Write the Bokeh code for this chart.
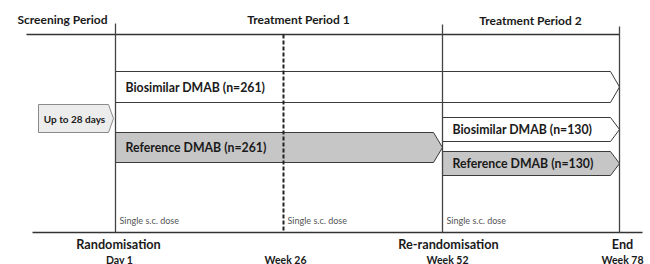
from bokeh.plotting import figure
from bokeh.models import Range1d
from bokeh.core.properties import value
from bokeh.embed import file_html
from bokeh.resources import INLINE

# ---- data ----
period_labels = ["Screening Period", "Treatment Period 1", "Treatment Period 2"]
timepoint_labels = ["Day 1", "Week 26", "Week 52", "Week 78"]
milestone_labels = ["Randomisation", "", "Re-randomisation", "End"]
dose_timepoints = [0, 1, 2]
dose_label = "Single s.c. dose"
screening_label = "Up to 28 days"
arm_labels = ["Biosimilar DMAB (n=261)", "Reference DMAB (n=261)",
              "Biosimilar DMAB (n=130)", "Reference DMAB (n=130)"]
arm_product = ["Biosimilar", "Reference", "Biosimilar", "Reference"]
arm_start = [0, 0, 2, 2]   # timepoint index
arm_end = [3, 2, 3, 3]     # timepoint index

# ---- layout (reference pixel space) ----
TP_X = [115, 283, 442, 619]
TP_TOP = [23, 34, 24, 26]
PERIOD_X = [62, 298, 530]
ARM_Y = [(71, 102), (132, 162), (117, 141), (151, 175)]
HEAD = 9
FILL = {"Biosimilar": "#ffffff", "Reference": "#c6c6c6"}
FONT = value("Lato")
TXT = "#1a1a1a"

p = figure(width=650, height=264, x_range=Range1d(0, 650), y_range=Range1d(264, 0),
           output_backend="svg", toolbar_location=None, min_border=0,
           x_axis_type=None, y_axis_type=None)
p.outline_line_color = None
p.grid.visible = False

# arms
xs, ys, fills = [], [], []
for lab, prod, s, e, (t, b) in zip(arm_labels, arm_product, arm_start, arm_end, ARM_Y):
    x0, x1 = TP_X[s], TP_X[e]
    m = (t + b) / 2
    xs.append([x0, x1 - HEAD, x1, x1 - HEAD, x0])
    ys.append([t, t, m, b, b])
    fills.append(FILL[prod])
p.patches(xs=xs, ys=ys, fill_color=fills, line_color="#3a3a3a", line_width=1)

# screening box
p.patches(xs=[[38, 108, 113, 108, 38]], ys=[[104, 104, 118, 132, 132]],
          fill_color="#ececec", line_color="#8a8a8a", line_width=1)

# lines
p.line(x=[26, TP_X[3]], y=[34, 34], line_color="#333333", line_width=1.3)
p.line(x=[32, 642], y=[232, 232], line_color="#333333", line_width=1.3)
for i, x in enumerate(TP_X):
    if i == 1:
        p.line(x=[x, x], y=[TP_TOP[i], 232], line_color="#222222", line_width=2, line_dash="4 2")
    else:
        p.line(x=[x, x], y=[TP_TOP[i], 232], line_color="#444444", line_width=1.3)

# period titles
p.text(x=PERIOD_X, y=[19, 19, 20], text=period_labels, text_font=FONT, text_font_style="bold",
       text_font_size="12px", text_align="center", text_baseline="middle", text_color=TXT)

# arm labels
p.text(x=[TP_X[s] + 10 for s in arm_start], y=[(t + b) / 2 for t, b in ARM_Y], text=arm_labels,
       text_font=FONT, text_font_style="bold", text_font_size="12.3px",
       text_align="left", text_baseline="middle", text_color=TXT)

p.text(x=[74], y=[118], text=[screening_label], text_font=FONT, text_font_style="bold",
       text_font_size="10px", text_align="center", text_baseline="middle", text_color=TXT)

p.text(x=[TP_X[i] + 4 for i in dose_timepoints], y=[220] * len(dose_timepoints),
       text=[dose_label] * len(dose_timepoints), text_font=FONT, text_font_size="9px",
       text_align="left", text_baseline="middle", text_color="#555555")

MS_X = [118, 283, 448, 622]
p.text(x=MS_X, y=[243] * 4, text=milestone_labels, text_font=FONT, text_font_style="bold",
       text_font_size="12.7px", text_align="center", text_baseline="middle", text_color=TXT)
TPL_X = [119, 285, 447, 622]
p.text(x=TPL_X, y=[259] * 4, text=timepoint_labels, text_font=FONT, text_font_style="bold",
       text_font_size="10.5px", text_align="center", text_baseline="middle", text_color=TXT)

open("out.html", "w").write(file_html(p, INLINE))
